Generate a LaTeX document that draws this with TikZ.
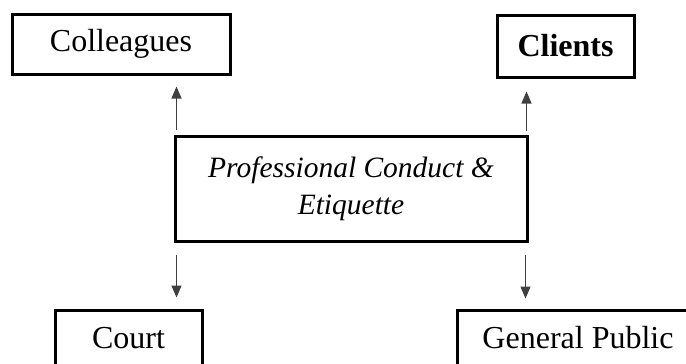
\documentclass[tikz,border=0pt]{standalone}
\usepackage{fontspec}
\setmainfont{Liberation Serif}
\usetikzlibrary{arrows.meta,positioning}
\begin{document}
\begin{tikzpicture}[x=1pt,y=1pt,
  box/.style={draw=black,line width=3pt,rectangle,inner sep=0pt,align=center,
    font=\fontsize{32}{38}\selectfont},
  arr/.style={draw=black!75,line width=1.2pt,-{Triangle[length=12pt,width=10pt]}}]
\useasboundingbox (0,0) rectangle (686,-364);
\clip (0,0) rectangle (686,-364);
\fill[white] (0,0) rectangle (686,-364);
\node[box,minimum width=218pt,minimum height=60pt] (coll) at (121,-44) {Colleagues};
\node[box,minimum width=137pt,minimum height=62pt] (cli) at (565.5,-46) {\textbf{Clients}};
\node[box,minimum width=352pt,minimum height=105pt,
  font=\fontsize{29.5}{37}\selectfont\itshape] (prof) at (351,-188.5)
  {Professional Conduct \&\\Etiquette};
\node[box,minimum width=147pt,minimum height=56pt] (court) at (128.5,-338) {Court};
\node[box,minimum width=242pt,minimum height=56pt] (gp) at (578,-338) {General Public};
\draw[arr,shorten >=11pt] ([xshift=3pt,yshift=5pt]prof.north west) -- ([xshift=3pt]prof.north west |- coll.south);
\draw[arr,shorten >=13pt] ([xshift=-2pt,yshift=4pt]prof.north east) -- ([xshift=-2pt]prof.north east |- cli.south);
\draw[arr,shorten >=11pt] ([xshift=3pt,yshift=-12pt]prof.south west) -- ([xshift=3pt]prof.south west |- court.north);
\draw[arr,shorten >=10pt] ([xshift=-3pt,yshift=-12pt]prof.south east) -- ([xshift=-3pt]prof.south east |- gp.north);
\end{tikzpicture}
\end{document}
